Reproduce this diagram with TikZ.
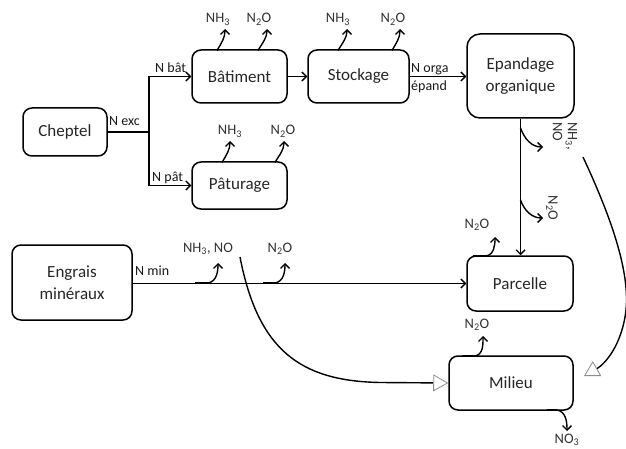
\documentclass[tikz,border=0pt]{standalone}
\usepackage{fontspec}
\setmainfont{Carlito}
\usetikzlibrary{arrows.meta}
\begin{document}
\begin{tikzpicture}[x=1pt,y=-1pt,
  box/.style={draw,line width=1.5pt,rounded corners=9pt,inner sep=0pt,align=center,font=\fontsize{17}{22}\selectfont,text=black!85},
  arr/.style={line width=1.4pt,-{Straight Barb[length=4.5pt,width=9pt]}},
  emis/.style={line width=1.4pt,-{Straight Barb[length=4.5pt,width=9pt]}},
  lab/.style={font=\fontsize{14}{15}\selectfont,inner sep=0pt,text=black!90},
  gas/.style={font=\fontsize{14.5}{15}\selectfont,inner sep=0pt,text=black!80},
  open/.style={line width=1.4pt,-{Triangle[length=15pt,width=17pt,color=black!45,fill=white,line width=0.8pt]}}]
\useasboundingbox (0,0) rectangle (626,449);
% boxes
\node[box,minimum width=84pt,minimum height=48pt] (chep) at (65,132) {Cheptel};
\node[box,minimum width=95pt,minimum height=53pt] (bat) at (239.5,76.5) {Bâtiment};
\node[box,minimum width=95pt,minimum height=47pt] (pat) at (239.5,185.5) {Pâturage};
\node[box,minimum width=101pt,minimum height=53pt] (sto) at (358.5,76.5) {Stockage};
\node[box,rounded corners=13pt,minimum width=107pt,minimum height=84pt] (epa) at (520.5,76) {Epandage\\organique};
\node[box,minimum width=106pt,minimum height=55pt] (par) at (520,283.5) {Parcelle};
\node[box,minimum width=124pt,minimum height=54pt] (mil) at (511,383) {Milieu};
\node[box,minimum width=120pt,minimum height=75pt] (eng) at (72,282.5) {Engrais\\minéraux};
% main flows
\coordinate (j) at (149,132);
\draw[line width=1.4pt] (chep.east) -- (j);
\draw[arr] (j) |- (bat.west);
\draw[arr] (j) |- (pat.west);
\draw[arr] (bat.east) -- (sto.west);
\draw[arr] (sto.east) -- (epa.west |- sto.east);
\draw[arr] (epa.south) -- (epa.south |- par.north);
\draw[arr] (eng.east |- par.west) -- (par.west);
% flow labels
\node[lab,anchor=base west] (lexc) at (109,126) {N exc};
\node[lab,anchor=base west] (lbat) at (155,73) {N bât};
\node[lab,anchor=base west] (lpat) at (152,182) {N pât};
\node[lab,anchor=base west] (lorg) at (411,73) {N orga};
\node[lab,anchor=base west] (lepd) at (411,91) {épand};
\node[lab,anchor=base west] (lmin) at (135,275) {N min};
% emissions from Batiment
\coordinate (b1) at (217,50.5); \coordinate (b1e) at (225,29);
\coordinate (b2) at (258,50.5); \coordinate (b2e) at (267,29);
\draw[emis] (b1) to[out=60,in=-90] (b1e);
\draw[emis] (b2) to[out=60,in=-90] (b2e);
\node[gas,anchor=base] (gb1) at (218,23) {NH\textsubscript{3}};
\node[gas,anchor=base] (gb2) at (259,23) {N\textsubscript{2}O};
% emissions from Paturage
\coordinate (p1) at (222,162.5); \coordinate (p1e) at (230,141);
\coordinate (p2) at (275,162.5); \coordinate (p2e) at (284,141);
\draw[emis] (p1) to[out=60,in=-90] (p1e);
\draw[emis] (p2) to[out=60,in=-90] (p2e);
\node[gas,anchor=base] (gp1) at (230,135) {NH\textsubscript{3}};
\node[gas,anchor=base] (gp2) at (283,135) {N\textsubscript{2}O};
% emissions from Stockage
\coordinate (s1) at (338,50.5); \coordinate (s1e) at (347,29);
\coordinate (s2) at (392,50.5); \coordinate (s2e) at (400,29);
\draw[emis] (s1) to[out=60,in=-90] (s1e);
\draw[emis] (s2) to[out=60,in=-90] (s2e);
\node[gas,anchor=base] (gs1) at (338,23) {NH\textsubscript{3}};
\node[gas,anchor=base] (gs2) at (393,23) {N\textsubscript{2}O};
% emissions from epandage line
\coordinate (e1) at (520.5,128); \coordinate (e1e) at (543,147);
\coordinate (e2) at (520.5,200); \coordinate (e2e) at (543,218);
\draw[emis] (e1) to[out=-70,in=180] (e1e);
\draw[emis] (e2) to[out=-70,in=180] (e2e);
\node[gas,rotate=-90,align=left] (ge1) at (565,136) {NH\textsubscript{3},\\NO};
\node[gas,rotate=-90] (ge2) at (552,208) {N\textsubscript{2}O};
% emissions from engrais line
\draw[line width=2.6pt] (195,283) -- (208,283);
\draw[emis] (195,283) -- (208,283) to[out=10,in=-90] (218,263);
\node[gas,anchor=base] (gm1) at (208,252) {NH\textsubscript{3}, NO};
\draw[line width=2.6pt] (263,283) -- (275,283);
\draw[emis] (263,283) -- (275,283) to[out=10,in=-90] (285,263);
\node[gas,anchor=base] (gm2) at (280,252) {N\textsubscript{2}O};
% emissions from Parcelle
\draw[line width=2.6pt] (473,256) -- (486,256);
\draw[emis] (473,256) -- (486,256) to[out=10,in=-90] (495,237);
\node[gas,anchor=base] (gpa) at (477,228) {N\textsubscript{2}O};
% emissions from Milieu
\draw[line width=2.6pt] (462,356) -- (475,356);
\draw[emis] (462,356) -- (475,356) to[out=10,in=-90] (483,336);
\node[gas,anchor=base] (gmi) at (477,328) {N\textsubscript{2}O};
\draw[line width=2.6pt] (547,410) -- (557,410);
\draw[emis] (547,410) -- (557,410) to[out=-10,in=90] (567,431);
\node[gas,anchor=base] (gno) at (567,443) {NO\textsubscript{3}};
% deposition curves
\coordinate (c1) at (240,257);
\draw[open] (c1) .. controls (258,350) and (300,381) .. (380,382.5) -- (mil.west);
\coordinate (c2) at (583,157);
\coordinate (c2e) at (584,376);
\draw[open] (c2) .. controls (610,215) and (630,270) .. (626,310) .. controls (622,345) and (605,364) .. (c2e);
\end{tikzpicture}
\end{document}
